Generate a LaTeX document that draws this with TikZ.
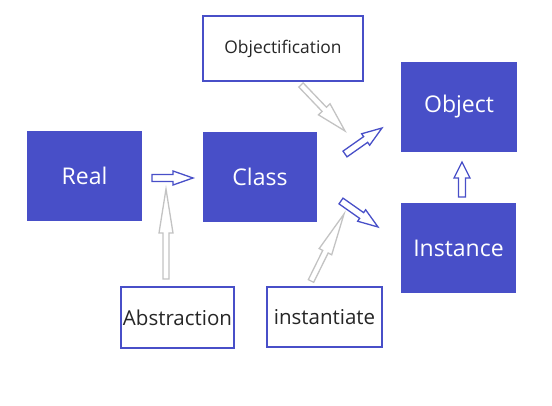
\documentclass[tikz,border=0pt]{standalone}
\usepackage{fontspec}
\setmainfont{Open Sans}
\usetikzlibrary{calc}
\definecolor{boxblue}{RGB}{72,79,200}
\definecolor{arrowgray}{RGB}{195,195,195}
\tikzset{
  solidbox/.style={rectangle,fill=boxblue,text=white,font=\fontsize{23}{27}\selectfont},
  framebox/.style={rectangle,draw=boxblue,line width=1.6pt,fill=white,text=black!85,inner sep=0.5pt},
  bluearrow/.style={draw=boxblue,line width=1.3pt,fill=white,line join=miter},
  grayarrow/.style={draw=arrowgray,line width=1.3pt,fill=white,line join=miter}
}
% hollow block arrow: style, from, to, half shaft, half head, head length
\newcommand{\hollowarrow}[6]{%
  \draw[#1] let \p1=($(#3)-(#2)$), \n1={atan2(\y1,\x1)}, \n2={veclen(\x1,\y1)} in
    ($(#2)+(\n1+90:#4)$) -- ++(\n1:\n2-#6) -- ++(\n1+90:#5-#4) -- (#3)
    -- ($(#3)+(\n1:-#6)+(\n1-90:#5)$) -- ++(\n1+90:#5-#4)
    -- ($(#2)+(\n1-90:#4)$) -- cycle;}
\begin{document}
\begin{tikzpicture}[x=1pt,y=1pt]
	\useasboundingbox (0,0) rectangle (552,-406);
	\node[solidbox,minimum width=115pt,minimum height=90pt] (real) at (84.5,-176) {Real};
	\node[solidbox,minimum width=114pt,minimum height=90pt] (class) at (260,-177) {Class};
	\node[solidbox,minimum width=116pt,minimum height=90pt] (object) at (459,-107) {Object};
	\node[solidbox,minimum width=115pt,minimum height=90pt] (instance) at (458.5,-248) {Instance};
	\node[framebox,minimum width=160pt,minimum height=65pt,font=\fontsize{17.4}{21}\selectfont] (objectification) at (283,-48.5) {Objectification};
	\node[framebox,minimum width=113pt,minimum height=61pt,font=\fontsize{20.5}{24}\selectfont] (abstraction) at (177.5,-317.5) {Abstraction};
	\node[framebox,minimum width=115pt,minimum height=60pt,font=\fontsize{20.5}{24}\selectfont] (instantiate) at (324.5,-317) {instantiate};
	% arrow ends
	\coordinate (realA) at (152,-178);   \coordinate (classA) at (193,-178);
	\coordinate (absA) at (166,-279);    \coordinate (absB) at (166,-189);
	\coordinate (objfA) at (301,-85);    \coordinate (objfB) at (345,-131);
	\coordinate (instA) at (311,-281);   \coordinate (instB) at (344,-214);
	\coordinate (upA) at (345,-154);     \coordinate (upB) at (382,-128);
	\coordinate (downA) at (341,-201);   \coordinate (downB) at (378,-227);
	\coordinate (isA) at (462,-197);     \coordinate (isB) at (462,-162);
	\hollowarrow{grayarrow}{absA}{absB}{3}{7}{44}
	\hollowarrow{grayarrow}{objfA}{objfB}{3}{8}{30}
	\hollowarrow{grayarrow}{instA}{instB}{3}{7}{42}
	\hollowarrow{bluearrow}{realA}{classA}{3.5}{7}{20}
	\hollowarrow{bluearrow}{upA}{upB}{3.5}{7}{20}
	\hollowarrow{bluearrow}{downA}{downB}{3.5}{7}{20}
	\hollowarrow{bluearrow}{isA}{isB}{3.5}{8}{16}
\end{tikzpicture}
\end{document}
